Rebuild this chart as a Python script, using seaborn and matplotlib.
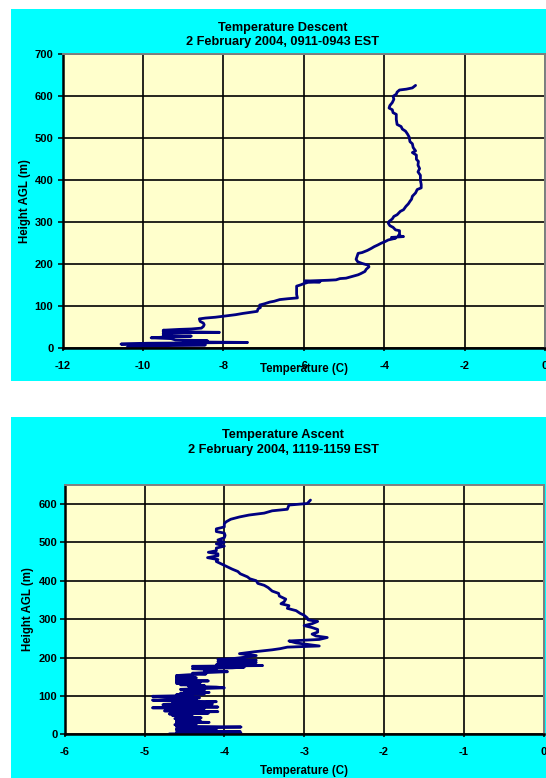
import numpy as np
import pandas as pd
import matplotlib
matplotlib.use("Agg")
import matplotlib.pyplot as plt
from matplotlib.patches import Rectangle
import seaborn as sns

# ---------------- data ----------------
desc_title = "Temperature Descent\n2 February 2004, 0911-0943 EST"
asc_title = "Temperature Ascent\n2 February 2004, 1119-1159 EST"
x_label = "Temperature (C)"
y_label = "Height AGL (m)"

desc_temp = [-3.22, -3.30, -3.45, -3.62, -3.68, -3.70, -3.78, -3.76, -3.80, -3.86,
             -3.88, -3.80, -3.78, -3.70, -3.70, -3.68, -3.58, -3.55, -3.47, -3.42,
             -3.38, -3.36, -3.30, -3.28, -3.22, -3.30, -3.20, -3.20, -3.15, -3.16,
             -3.12, -3.16, -3.10, -3.10, -3.08, -3.08, -3.18, -3.22, -3.30, -3.32,
             -3.36, -3.40, -3.46, -3.52, -3.60, -3.68, -3.76, -3.80, -3.88, -3.90,
             -3.86, -3.78, -3.72, -3.62, -3.62, -3.65, -3.52, -3.82, -3.72, -3.90,
             -3.98, -4.08, -4.16, -4.25, -4.32, -4.42, -4.55, -4.65, -4.68, -4.70,
             -4.66, -4.55, -4.40, -4.38, -4.45, -4.48, -4.58, -4.65, -4.80, -4.95,
             -5.10, -5.20, -5.40, -5.70, -5.98, -5.60, -5.90, -6.00, -6.08, -6.18,
             -6.18, -6.18, -6.16, -6.40, -6.60, -6.74, -6.85, -6.98, -7.10, -7.08,
             -7.14, -7.16, -7.30, -7.52, -7.70, -7.95, -8.20, -8.45, -8.60, -8.58,
             -8.50, -8.48, -8.50, -8.55, -8.80, -9.10, -9.50, -9.20, -9.50, -8.10,
             -9.40, -9.50, -9.30, -9.50, -8.80, -9.40, -9.80, -9.30, -9.20, -8.40,
             -9.00, -8.60, -7.40, -8.70, -9.90, -10.55, -9.50, -8.45, -9.60, -10.35,
             -10.40]
desc_height = [626, 620, 617, 615, 610, 605, 600, 593, 585, 578,
               572, 568, 561, 557, 545, 533, 528, 522, 517, 510,
               503, 492, 487, 478, 470, 466, 460, 450, 445, 436,
               428, 420, 412, 400, 390, 382, 378, 370, 362, 355,
               350, 344, 338, 330, 326, 318, 314, 308, 302, 298,
               292, 288, 282, 280, 272, 268, 266, 264, 262, 258,
               254, 250, 246, 242, 238, 233, 228, 226, 218, 212,
               206, 202, 198, 194, 188, 183, 178, 175, 171, 167,
               166, 163, 162, 161, 160, 158, 157, 154, 151, 148,
               138, 128, 120, 118, 116, 112, 110, 106, 103, 97,
               94, 88, 86, 83, 80, 77, 74, 72, 70, 64,
               60, 56, 52, 48, 46, 45, 43, 41, 40, 38,
               37, 35, 33, 31, 29, 27, 25, 23, 20, 18,
               16, 15, 14, 13, 12, 10, 9, 8, 6, 4,
               2]

asc_temp = [-4.69, -3.79, -4.60, -3.80, -4.55, -4.60, -4.10, -4.60, -4.30, -3.79,
            -4.60, -4.40, -4.62, -4.35, -4.60, -4.19, -4.60, -4.30, -4.60, -4.35,
            -4.62, -4.29, -4.60, -4.40, -4.65, -4.45, -4.69, -4.20, -4.65, -4.08,
            -4.75, -4.30, -4.62, -4.25, -4.90, -4.08, -4.70, -4.40, -4.77, -4.15,
            -4.65, -4.25, -4.10, -4.70, -4.90, -4.35, -4.65, -4.31, -4.75, -4.90,
            -4.40, -4.60, -4.25, -4.55, -4.19, -4.50, -4.44, -4.25, -4.55, -4.30,
            -4.00, -4.10, -4.45, -4.25, -4.55, -4.35, -4.60, -4.30, -4.60, -4.20,
            -4.60, -4.40, -4.60, -4.35, -4.60, -4.40, -4.60, -4.45, -4.23, -4.40,
            -4.20, -3.96, -4.25, -4.10, -4.19, -4.40, -3.90, -3.75, -4.40, -3.52,
            -4.10, -3.85, -4.05, -3.60, -4.08, -3.70, -3.60, -4.08, -3.90, -3.81,
            -3.60, -3.81, -3.62, -3.40, -3.30, -3.21, -2.81, -3.10, -3.19, -2.81,
            -2.71, -2.85, -2.90, -2.83, -2.83, -2.90, -3.00, -2.90, -2.83, -2.95,
            -2.96, -3.00, -3.05, -3.10, -3.21, -3.19, -3.29, -3.25, -3.23, -3.31,
            -3.32, -3.40, -3.45, -3.50, -3.58, -3.60, -3.68, -3.71, -3.80, -3.83,
            -3.90, -3.97, -4.05, -4.10, -4.08, -4.21, -4.08, -4.08, -4.20, -4.10,
            -4.10, -4.00, -4.10, -4.00, -4.08, -4.00, -3.99, -4.00, -4.10, -4.10,
            -4.00, -4.00, -3.98, -3.92, -3.81, -3.69, -3.50, -3.40, -3.21, -3.19,
            -2.96, -2.92]
asc_height = [1, 3, 5, 7, 9, 11, 13, 15, 17, 19,
              21, 23, 25, 27, 29, 31, 33, 35, 37, 39,
              41, 43, 45, 47, 49, 51, 53, 55, 57, 59,
              61, 63, 65, 67, 69, 71, 73, 75, 77, 79,
              81, 83, 85, 87, 89, 91, 93, 95, 97, 99,
              101, 103, 105, 107, 109, 111, 113, 115, 117, 119,
              121, 123, 125, 127, 129, 131, 133, 135, 137, 139,
              141, 143, 145, 147, 149, 151, 153, 155, 157, 159,
              161, 163, 165, 167, 169, 171, 173, 175, 177, 179,
              181, 183, 185, 187, 189, 191, 193, 195, 197, 199,
              205, 210, 215, 220, 223, 227, 230, 238, 243, 247,
              252, 256, 261, 266, 273, 278, 283, 288, 294, 298,
              303, 310, 315, 322, 328, 335, 340, 345, 352, 360,
              367, 373, 382, 388, 393, 400, 405, 410, 418, 424,
              430, 437, 445, 450, 455, 460, 465, 470, 474, 478,
              485, 490, 496, 500, 506, 512, 518, 524, 528, 535,
              540, 548, 553, 560, 566, 571, 576, 582, 586, 597,
              601, 610]

desc_xticks = [-12, -10, -8, -6, -4, -2, 0]
desc_yticks = [0, 100, 200, 300, 400, 500, 600, 700]
asc_xticks = [-6, -5, -4, -3, -2, -1, 0]
asc_yticks = [0, 100, 200, 300, 400, 500, 600]

# ---------------- style ----------------
sns.set_theme(style="white")
plt.rcParams['font.family'] = ['Liberation Sans', 'DejaVu Sans']
plt.rcParams['font.weight'] = 'bold'

W, H = 546, 778
fig = plt.figure(figsize=(W / 100, H / 100), dpi=100, facecolor='white')

CYAN = '#00FFFF'
PLOT_BG = '#FFFFCC'
LINE = '#000080'


def px_rect(x0, y0, x1, y1):
    return [x0 / W, 1 - y1 / H, (x1 - x0) / W, (y1 - y0) / H]


# cyan chart areas
for (x0, y0, x1, y1) in [(11, 9, 546, 380.7), (11, 416.7, 546, 778)]:
    r = px_rect(x0, y0, x1, y1)
    fig.patches.append(Rectangle((r[0], r[1]), r[2], r[3], transform=fig.transFigure,
                                 facecolor=CYAN, edgecolor='none', zorder=-10))


def style_axes(ax, xlim, ylim, xticks, yticks, xlab_y, ylab_x, ypad):
    ax.set_zorder(5)
    ax.set_facecolor(PLOT_BG)
    ax.set_xlim(*xlim)
    ax.set_ylim(*ylim)
    ax.set_xticks(xticks)
    ax.set_yticks(yticks)
    ax.set_xticklabels([str(v) for v in xticks], fontsize=8, fontweight='bold')
    ax.set_yticklabels([str(v) for v in yticks], fontsize=8, fontweight='bold')
    ax.grid(True, color='black', linewidth=1.2)
    ax.set_axisbelow(True)
    for s in ['left', 'bottom']:
        ax.spines[s].set_color('black')
        ax.spines[s].set_linewidth(1.8)
    for s in ['top', 'right']:
        ax.spines[s].set_color('#808080')
        ax.spines[s].set_linewidth(1.4)
    ax.tick_params(axis='x', direction='out', length=2.5, width=1.1, colors='black', pad=6.5)
    ax.tick_params(axis='y', direction='out', length=3.3, width=1.1, colors='black', pad=ypad)
    ax.tick_params(bottom=True, left=True)
    ax.set_xlabel(x_label, fontsize=8.3, fontweight='bold', color='black')
    ax.set_ylabel(y_label, fontsize=8.3, fontweight='bold', color='black')
    ax.xaxis.set_label_coords(0.5, xlab_y)
    ax.xaxis.label.set_va('center')
    ax.yaxis.set_label_coords(ylab_x, 0.5)
    ax.yaxis.label.set_va('center')


# ---- top: descent ----
ax1 = fig.add_axes(px_rect(62.7, 54.3, 545, 348.3))
df1 = pd.DataFrame({'T': desc_temp, 'h': desc_height})
sns.lineplot(data=df1, x='T', y='h', sort=False, estimator=None, ax=ax1,
             color=LINE, linewidth=2.0)
style_axes(ax1, (-12, 0), (0, 700), desc_xticks, desc_yticks,
           xlab_y=(348.3 - 369) / 294.0, ylab_x=(25.5 - 62.7) / 482.3, ypad=3.5)

# ---- bottom: ascent ----
ax2 = fig.add_axes(px_rect(64.7, 484.7, 543.5, 734.3))
df2 = pd.DataFrame({'T': asc_temp, 'h': asc_height})
sns.lineplot(data=df2, x='T', y='h', sort=False, estimator=None, ax=ax2,
             color=LINE, linewidth=2.0)
style_axes(ax2, (-6, 0), (0, 650), asc_xticks, asc_yticks,
           xlab_y=(734.3 - 771) / 249.6, ylab_x=(28 - 64.7) / 478.8, ypad=2.0)

# titles
fig.text(283 / W, 1 - 34.7 / H, desc_title, ha='center', va='center', fontsize=9.2,
         fontweight='bold', color='black', linespacing=1.25)
fig.text(283 / W, 1 - 442.5 / H, asc_title, ha='center', va='center', fontsize=9.2,
         fontweight='bold', color='black', linespacing=1.25)

fig.savefig('out.png', dpi=100, facecolor='white')
